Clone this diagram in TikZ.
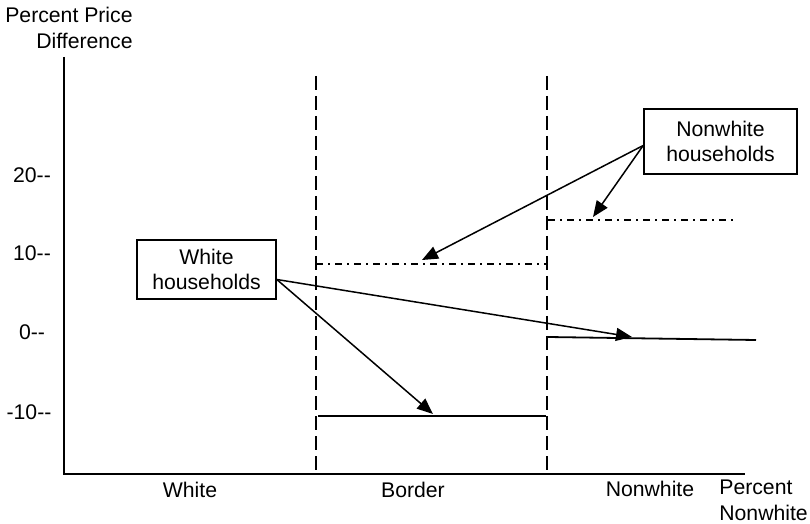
\documentclass[tikz,border=0pt]{standalone}
\usepackage{fontspec}
\setmainfont{Liberation Sans}
\usetikzlibrary{arrows.meta}

\begin{document}
\begin{tikzpicture}[x=0.5pt,y=-0.5pt,
  every node/.style={font=\fontsize{10.6}{12.8}\selectfont},
  axis/.style={line width=1pt},
  divider/.style={line width=0.8pt, dash pattern=on 7pt off 3pt},
  dashdot/.style={line width=0.7pt, dash pattern=on 3.5pt off 2.5pt on 1pt off 2.5pt},
  level/.style={line width=0.9pt},
  hhbox/.style={draw, line width=0.8pt, align=center, inner sep=0pt},
  pointer/.style={line width=0.75pt, -{Triangle[length=8pt,width=6.5pt]}}]

        \useasboundingbox (0,0) rectangle (810,524);

        % axes
        \coordinate (O) at (64,474);
        \coordinate (ytop) at (64,57);
        \coordinate (xend) at (745,474);
        \draw[axis] (ytop) -- (O) -- (xend);
        \node[anchor=north east, align=right, inner sep=0pt] (ylab) at (133,7) {Percent Price\\Difference};
        \node[anchor=north west, align=left, inner sep=0pt] (xlab) at (719,480) {Percent\\Nonwhite};

        \node (t20) at (32,175) {20{-}{-}};
        \node (t10) at (32,253) {10{-}{-}};
        \node (t0) at (32,332) {0{-}{-}};
        \node (tm10) at (29,412) {{-}10{-}{-}};

        \node[anchor=base] (zw) at (190,497) {White};
        \node[anchor=base] (zb) at (413,497) {Border};
        \node[anchor=base] (zn) at (650,496) {Nonwhite};

        % zone dividers
        \coordinate (b1top) at (316,76);
        \coordinate (b1bot) at (316,474);
        \coordinate (b2top) at (547,76);
        \coordinate (b2bot) at (547,474);
        \draw[divider] (b1top) -- (b1bot);
        \draw[divider] (b2top) -- (b2bot);

        % price levels
        \coordinate (bwl) at (318,416);
        \coordinate (bwr) at (546,416);
        \coordinate (nwl) at (548,337);
        \coordinate (nwr) at (756,340);
        \coordinate (bnl) at (316,264);
        \coordinate (bnr) at (547,264);
        \coordinate (nnl) at (548,220);
        \coordinate (nnr) at (737,220);
        \draw[level] (bwl) -- (bwr);
        \draw[level] (nwl) -- (nwr);
        \draw[dashdot] (bnl) -- (bnr);
        \draw[dashdot] (nnl) -- (nnr);

        \node[hhbox, minimum width=69.5pt, minimum height=29.5pt] (wbox) at (206.5,269.5) {White\\households};
        \node[hhbox, minimum width=76.5pt, minimum height=32.5pt] (nbox) at (720.5,141.5) {Nonwhite\\households};

        \coordinate (wsrc) at ([yshift=-5pt]wbox.east);
        \coordinate (nsrc) at ([yshift=-2pt]nbox.west);
        \coordinate (wtip1) at (433,414);
        \coordinate (wtip2) at (632,337);
        \coordinate (ntip1) at (422,260);
        \coordinate (ntip2) at (593,217);
        \draw[pointer] (wsrc) -- (wtip1);
        \draw[pointer] (wsrc) -- (wtip2);
        \draw[pointer] (nsrc) -- (ntip1);
        \draw[pointer] (nsrc) -- (ntip2);
\end{tikzpicture}
\end{document}
